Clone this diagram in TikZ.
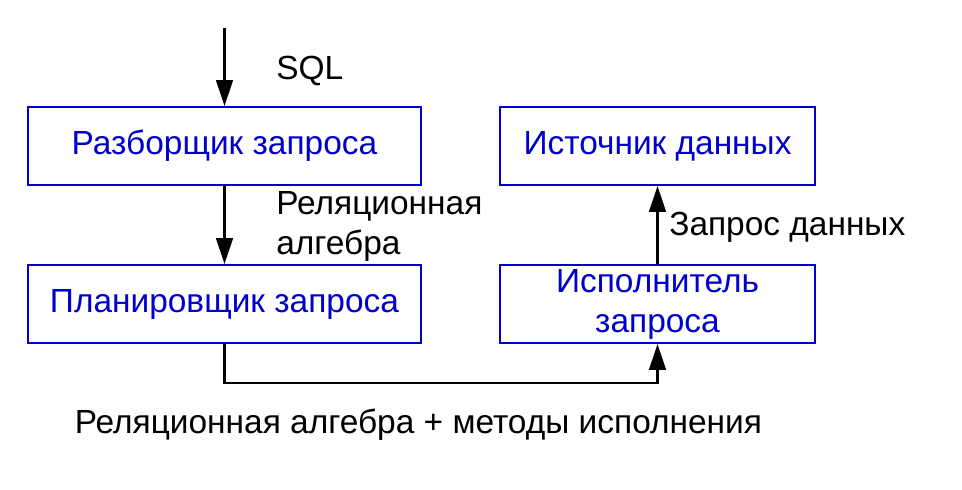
\documentclass[tikz,border=0pt]{standalone}
\usepackage{fontspec}
\setmainfont{Liberation Sans}
\usepackage{tikz}
\usetikzlibrary{positioning,calc,arrows.meta}

\definecolor{boxblue}{HTML}{0000CC}
\tikzset{
    block/.style={draw=boxblue, line width=1.4pt, text=boxblue, minimum width=9.825cm, minimum height=1.95cm, align=center, inner sep=0pt},
    arr/.style={line width=1.5pt, -{Triangle[length=0.65cm, width=0.42cm]}},
    lbl/.style={inner sep=0pt, align=left}
}

\begin{document}
\begin{tikzpicture}
    \useasboundingbox (0,0) rectangle (24.05,-12.25);
    \fontsize{23.8}{28.5}\selectfont
    \node [block] (parser) at (5.6125, -3.65) {Разборщик запроса};
    \node [block] (planner) at (5.6125, -7.6) {Планировщик запроса};
    \node [block, minimum width=7.875cm] (source) at (16.4375, -3.65) {Источник данных};
    \node [block, minimum width=7.875cm] (executor) at (16.4375, -7.6) {Исполнитель\\запроса};
    \coordinate (input) at (5.6125, -0.7);
    \draw [arr] (input) -- (parser);
    \draw [arr] (parser) -- (planner);
    \draw [arr] (executor) -- (source);
    \draw [arr] (planner.south) -- ++(0,-0.975) -| (executor.south);
    \node [lbl, anchor=base west] (sql) at (6.9, -2.0) {SQL};
    \node [lbl, anchor=west] (relalg) at (6.9, -5.67) {Реляционная\\алгебра};
    \node [lbl, anchor=base west] (datareq) at (16.725, -5.9) {Запрос данных};
    \node [lbl, anchor=base] (plan) at (10.46, -10.83) {Реляционная алгебра + методы исполнения};
\end{tikzpicture}
\end{document}
